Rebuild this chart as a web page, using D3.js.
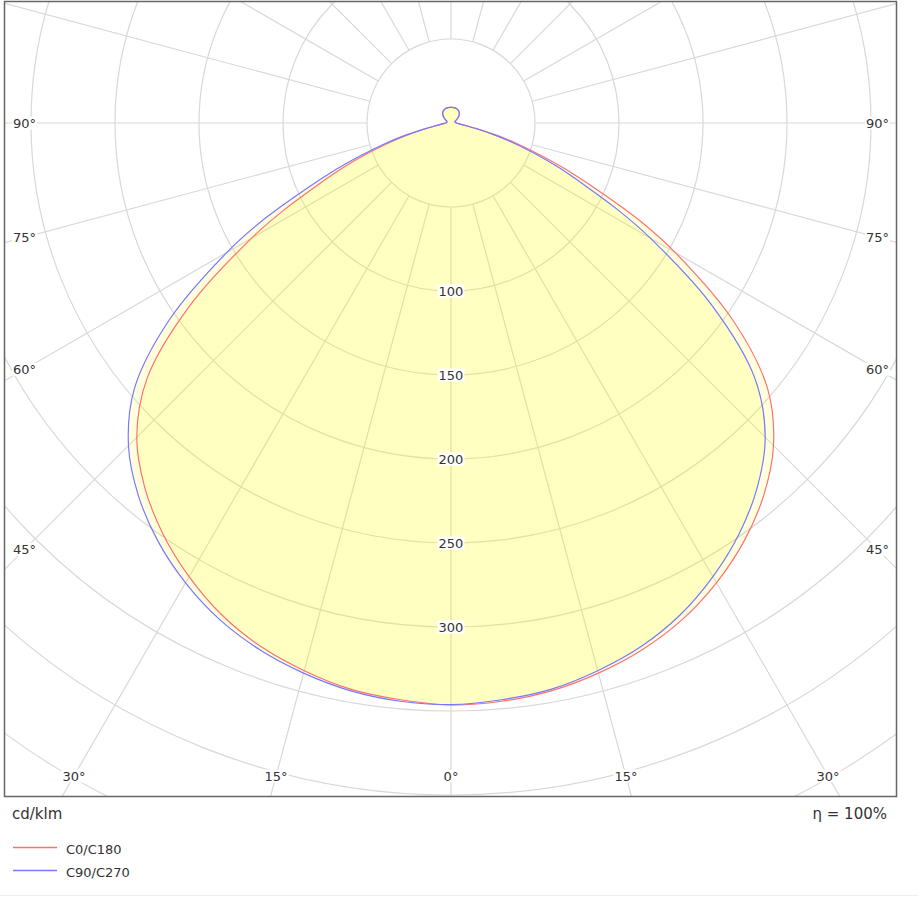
<!DOCTYPE html>
<html>
<head>
    <meta charset="utf-8">
    <title>Luminous intensity distribution</title>
    <script src="https://cdn.jsdelivr.net/npm/d3@7"></script>
    <style>
        body { margin: 0; background: #fff; }
        svg { display: block; font-family: "DejaVu Sans", Verdana, sans-serif; }
        .grid { fill: none; stroke: #d8d8d8; stroke-width: 1.2; }
        .lbl { font-size: 13px; fill: #333; }
    </style>
</head>
<body>
<div id="chart"></div>
<script>
    // gamma angles (deg) and intensities in cd/klm
    var gammaDeg = [0, 5, 10, 15, 20, 25, 30, 35, 40, 45, 50, 55, 60, 62.5, 65, 67.5, 70, 72.5, 75, 77.5, 80, 85,
                    90, 95, 100, 105, 110, 115, 120, 125, 130, 135, 140, 145, 150, 155, 160, 165, 170, 175, 180];
    var c0   = [346.4, 345.5, 343.2, 339, 333.5, 326, 316, 304, 289.5, 271.5, 246, 205, 154, 128, 100, 78, 58, 42, 28, 16, 9, 4.8,
                3.2, 2.9, 2.6, 2.5, 2.6, 2.9, 3.7, 4.7, 5.8, 6.9, 7.7, 8.3, 8.7, 9.0, 9.2, 9.3, 9.3, 9.3, 9.3];
    var c180 = [346.2, 344.6, 342.3, 337.5, 331.5, 323, 311.8, 298.8, 283.5, 264.5, 236, 190, 137, 112, 88, 70, 53, 38, 25, 14.5, 8.5, 4.6,
                3.2, 2.9, 2.6, 2.5, 2.6, 2.9, 3.7, 4.7, 5.8, 6.9, 7.7, 8.3, 8.7, 9.0, 9.2, 9.3, 9.3, 9.3, 9.3];
    var c90  = [346.2, 344.6, 342.3, 337.5, 331.5, 323, 311.8, 298.8, 283.5, 264.5, 236, 190, 137, 112, 88, 70, 53, 38, 25, 14.5, 8.5, 4.6,
                3.2, 2.9, 2.6, 2.5, 2.6, 2.9, 3.7, 4.7, 5.8, 6.9, 7.7, 8.3, 8.7, 9.0, 9.2, 9.3, 9.3, 9.3, 9.3];
    var c270 = [346.4, 345.5, 343.2, 339, 333.5, 326, 316, 304, 289.5, 271.5, 246, 205, 154, 128, 100, 78, 58, 42, 28, 16, 9, 4.8,
                3.2, 2.9, 2.6, 2.5, 2.6, 2.9, 3.7, 4.7, 5.8, 6.9, 7.7, 8.3, 8.7, 9.0, 9.2, 9.3, 9.3, 9.3, 9.3];

    var ringValues = [50, 100, 150, 200, 250, 300, 350, 400, 450];
    var ringLabels = [100, 150, 200, 250, 300];
    var angleLabels = [0, 15, 30, 45, 60, 75, 90];
    var legendItems = [
        {name: "C0/C180", color: "#ff7070"},
        {name: "C90/C270", color: "#7777ff"}
    ];

    var svgWidth = 918, svgHeight = 897;
    var frame = {x: 4.5, y: 1.5, w: 892, h: 795};
    var cx = 451, cy = 123;
    var labelInsetX = 426.5, labelInsetY = 653;

    var rad = d => d * Math.PI / 180;
    var rScale = d3.scaleLinear().domain([0, 50]).range([0, 84]);

    var svg = d3.select('#chart').append('svg')
        .attr('width', svgWidth)
        .attr('height', svgHeight);

    svg.append('defs').append('clipPath').attr('id', 'frameClip')
        .append('rect')
        .attr('x', frame.x).attr('y', frame.y)
        .attr('width', frame.w).attr('height', frame.h);

    var plot = svg.append('g').attr('clip-path', 'url(#frameClip)');
    var center = plot.append('g').attr('transform', `translate(${cx},${cy})`);

    // grid rings
    center.selectAll('.ring')
        .data(ringValues)
        .enter().append('circle')
            .attr('class', 'grid ring')
            .attr('r', d => rScale(d));

    // spokes every 15 deg, starting at the first ring
    center.selectAll('.spoke')
        .data(d3.range(0, 360, 15))
        .enter().append('line')
            .attr('class', 'grid spoke')
            .attr('x1', d => rScale(50) * Math.sin(rad(d)))
            .attr('y1', d => rScale(50) * Math.cos(rad(d)))
            .attr('x2', d => 1200 * Math.sin(rad(d)))
            .attr('y2', d => 1200 * Math.cos(rad(d)));

    // label with a small white box behind it
    function boxedLabel(parent, x, y, txt) {
        var g = parent.append('g');
        var t = g.append('text')
            .attr('class', 'lbl')
            .attr('x', x).attr('y', y)
            .attr('text-anchor', 'middle')
            .attr('dominant-baseline', 'central')
            .text(txt);
        var b = t.node().getBBox();
        g.insert('rect', 'text')
            .attr('x', b.x - 1).attr('y', b.y + 1)
            .attr('width', b.width + 2).attr('height', b.height - 2)
            .attr('fill', '#fff');
    }

    ringLabels.forEach(v => boxedLabel(plot, cx, cy + rScale(v), v));

    angleLabels.forEach(a => {
        var s = Math.sin(rad(a)), c = Math.cos(rad(a));
        var t = Math.min(s > 0 ? labelInsetX / s : Infinity, c > 0.0001 ? labelInsetY / c : Infinity);
        var sides = a === 0 ? [1] : [-1, 1];
        sides.forEach(side => boxedLabel(plot, cx + side * t * s, cy + t * c, a + '°'));
    });

    // build a closed curve: left half from one plane, right half from the other
    function curvePoints(leftVals, rightVals) {
        var pts = [];
        for (var i = gammaDeg.length - 1; i > 0; i--) {
            pts.push({a: Math.PI + rad(gammaDeg[i]), v: leftVals[i]});
        }
        for (var j = 0; j < gammaDeg.length - 1; j++) {
            pts.push({a: Math.PI - rad(gammaDeg[j]), v: rightVals[j]});
        }
        return pts;
    }

    var radialLine = d3.lineRadial()
        .angle(d => d.a)
        .radius(d => rScale(d.v))
        .curve(d3.curveCatmullRomClosed);

    var curves = [
        {pts: curvePoints(c180, c0), color: legendItems[0].color},
        {pts: curvePoints(c270, c90), color: legendItems[1].color}
    ];

    center.selectAll('.fillArea')
        .data(curves)
        .enter().append('path')
            .attr('class', 'fillArea')
            .attr('d', d => radialLine(d.pts))
            .attr('fill', '#ffff00')
            .attr('fill-opacity', 0.13)
            .attr('stroke', 'none');

    center.selectAll('.curve')
        .data(curves)
        .enter().append('path')
            .attr('class', 'curve')
            .attr('d', d => radialLine(d.pts))
            .attr('fill', 'none')
            .attr('stroke', d => d.color)
            .attr('stroke-width', 1.2);

    // frame
    svg.append('rect')
        .attr('x', frame.x).attr('y', frame.y)
        .attr('width', frame.w).attr('height', frame.h)
        .attr('fill', 'none')
        .attr('stroke', '#666')
        .attr('stroke-width', 1.5);

    svg.append('text')
        .attr('x', 12).attr('y', 819)
        .style('font-size', '15px').style('fill', '#333')
        .text('cd/klm');

    svg.append('text')
        .attr('x', 887).attr('y', 819)
        .attr('text-anchor', 'end')
        .style('font-size', '15px').style('fill', '#333')
        .text('η = 100%');

    // legend
    var legend = svg.selectAll('.legend')
        .data(legendItems)
        .enter().append('g')
            .attr('class', 'legend')
            .attr('transform', (d, i) => `translate(0,${847.5 + i * 23})`);

    legend.append('line')
        .attr('x1', 13).attr('x2', 57)
        .attr('stroke', d => d.color)
        .attr('stroke-width', 1.3);

    legend.append('text')
        .attr('x', 66).attr('y', 6)
        .style('font-size', '13px').style('fill', '#333')
        .text(d => d.name);

    svg.append('line')
        .attr('x1', 0).attr('x2', svgWidth)
        .attr('y1', 895.5).attr('y2', 895.5)
        .attr('stroke', '#eee');
</script>
</body>
</html>
